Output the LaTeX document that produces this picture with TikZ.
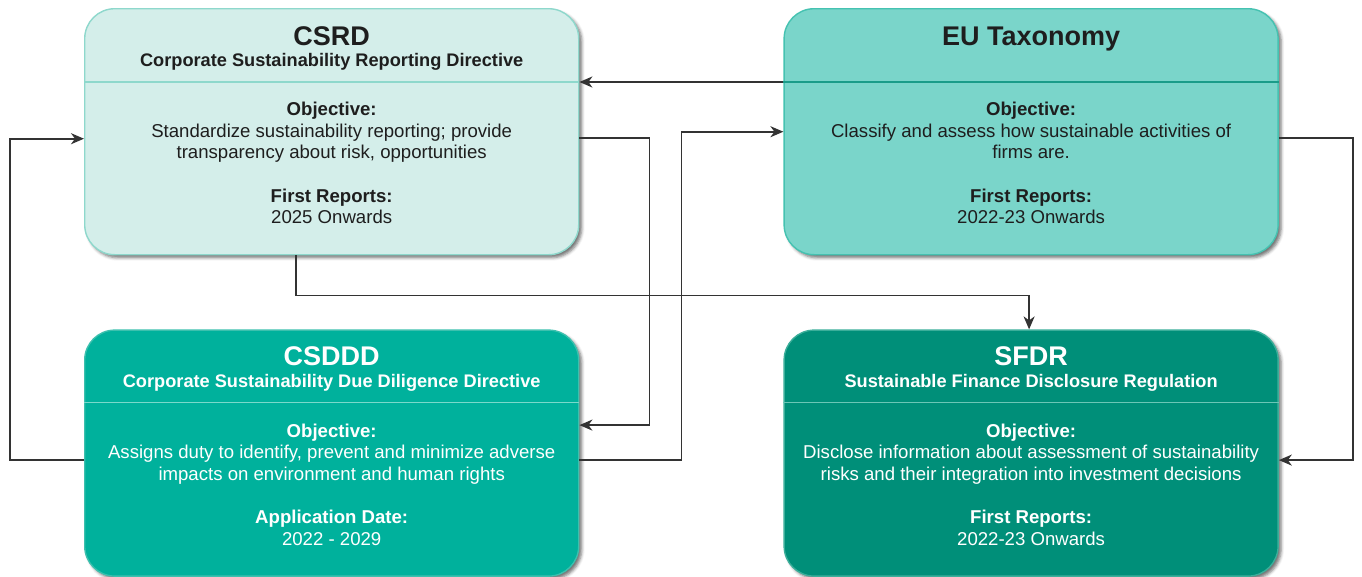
\documentclass[tikz,border=0pt]{standalone}
\usepackage{fontspec}
\setmainfont{Liberation Sans}
\usepackage{tikz}
\usetikzlibrary{positioning, arrows.meta, shadows.blur}
\definecolor{csrdfill}{HTML}{D4EEEA}
\definecolor{csrdedge}{HTML}{8ED8CC}
\definecolor{taxfill}{HTML}{7AD5CA}
\definecolor{taxedge}{HTML}{45C2B1}
\definecolor{taxline}{HTML}{1A9C89}
\definecolor{csdddfill}{HTML}{00B19C}
\definecolor{csdddedge}{HTML}{3CC0AE}
\definecolor{csdddline}{HTML}{7AD9CB}
\definecolor{sfdrfill}{HTML}{008F79}
\definecolor{sfdredge}{HTML}{3BAE9A}
\definecolor{sfdrline}{HTML}{6CC6B6}
\definecolor{inkdark}{HTML}{1E1E1E}
\definecolor{wire}{HTML}{333333}
\tikzset{
	card/.style={
		rounded corners=30pt,
		minimum width=494pt,
		minimum height=246pt,
		line width=1.4pt,
		inner sep=0pt,
		blur shadow={shadow xshift=3pt, shadow yshift=-3pt, shadow blur radius=3pt, shadow opacity=55}
	},
	headline/.style={line width=1.6pt},
	ttl/.style={anchor=base, inner sep=0pt, font=\bfseries\fontsize{27}{30}\selectfont},
	sub/.style={anchor=base, inner sep=0pt, font=\bfseries\fontsize{18.2}{21}\selectfont},
	body/.style={anchor=north, inner sep=0pt, align=center, font=\fontsize{18.6}{21.5}\selectfont},
	conn/.style={draw=wire, line width=1.8pt, -{Stealth[length=13pt, width=11pt, inset=4pt]}}
}

\begin{document}
\begin{tikzpicture}[
	dark/.style = {text=inkdark},
	light/.style = {text=white}
	]
	\useasboundingbox (0,0) rectangle (1362pt,-576pt);
	
	\node[card, draw=csrdedge, fill=csrdfill, anchor=north west] (csrd) at (84pt,-8pt) {};
	\node[card, draw=taxedge, fill=taxfill, right = 204pt of csrd] (tax) {};
	\node[card, draw=csdddedge, fill=csdddfill, below = 74pt of csrd] (csddd) {};
	\node[card, draw=sfdredge, fill=sfdrfill, below = 74pt of tax] (sfdr) {};
	
	% header rules
	\draw[headline, csrdedge] ([yshift=-74pt]csrd.north west) -- ([yshift=-74pt]csrd.north east);
	\coordinate (taxhl) at ([yshift=-74pt]tax.north west);
	\draw[headline, taxline] (taxhl) -- ([yshift=-74pt]tax.north east);
	\draw[headline, csdddline] ([yshift=-73pt]csddd.north west) -- ([yshift=-73pt]csddd.north east);
	\draw[headline, sfdrline] ([yshift=-73pt]sfdr.north west) -- ([yshift=-73pt]sfdr.north east);
	
	% CSRD
	\node[ttl, dark] (csrd-t) at ([yshift=-37pt]csrd.north) {CSRD};
	\node[sub, dark] (csrd-s) at ([yshift=-58pt]csrd.north) {Corporate Sustainability Reporting Directive};
	\node[body, dark] (csrd-b) at ([yshift=-94pt]csrd.north) {\textbf{Objective:}\\
		Standardize sustainability reporting; provide\\
		transparency about risk, opportunities\\[22pt]
		\textbf{First Reports:}\\
		2025 Onwards};
	
	% EU Taxonomy
	\node[ttl, dark] (tax-t) at ([yshift=-37pt]tax.north) {EU Taxonomy};
	\node[body, dark] (tax-b) at ([yshift=-94pt]tax.north) {\textbf{Objective:}\\
		Classify and assess how sustainable activities of\\
		firms are.\\[22pt]
		\textbf{First Reports:}\\
		2022-23 Onwards};
	
	% CSDDD
	\node[ttl, light] (csddd-t) at ([yshift=-36pt]csddd.north) {CSDDD};
	\node[sub, light] (csddd-s) at ([yshift=-58pt]csddd.north) {Corporate Sustainability Due Diligence Directive};
	\node[body, light] (csddd-b) at ([yshift=-94pt]csddd.north) {\textbf{Objective:}\\
		Assigns duty to identify, prevent and minimize adverse\\
		impacts on environment and human rights\\[22pt]
		\textbf{Application Date:}\\
		2022 - 2029};
	
	% SFDR
	\node[ttl, light] (sfdr-t) at ([yshift=-36pt]sfdr.north) {SFDR};
	\node[sub, light] (sfdr-s) at ([yshift=-58pt]sfdr.north) {Sustainable Finance Disclosure Regulation};
	\node[body, light] (sfdr-b) at ([yshift=-94pt]sfdr.north) {\textbf{Objective:}\\
		Disclose information about assessment of sustainability\\
		risks and their integration into investment decisions\\[22pt]
		\textbf{First Reports:}\\
		2022-23 Onwards};
	
	% links
	\draw[conn] (taxhl) -- (taxhl -| csrd.east);
	\draw[conn] ([yshift=-7pt]csddd.west) -- ++(-74pt,0) |- ([yshift=-7pt]csrd.west);
	\draw[conn] ([yshift=-6pt]csrd.east) -- ++(70pt,0) |- ([yshift=28pt]csddd.east);
	\draw[conn] ([yshift=-7pt]csddd.east) -- ++(102pt,0) |- (tax.west);
	\draw[conn] ([xshift=-36pt]csrd.south) -- ++(0,-40pt) -| ([xshift=-2pt]sfdr.north);
	\draw[conn] ([yshift=-6pt]tax.east) -- ++(74pt,0) |- ([yshift=-7pt]sfdr.east);
	
\end{tikzpicture}
\end{document}
